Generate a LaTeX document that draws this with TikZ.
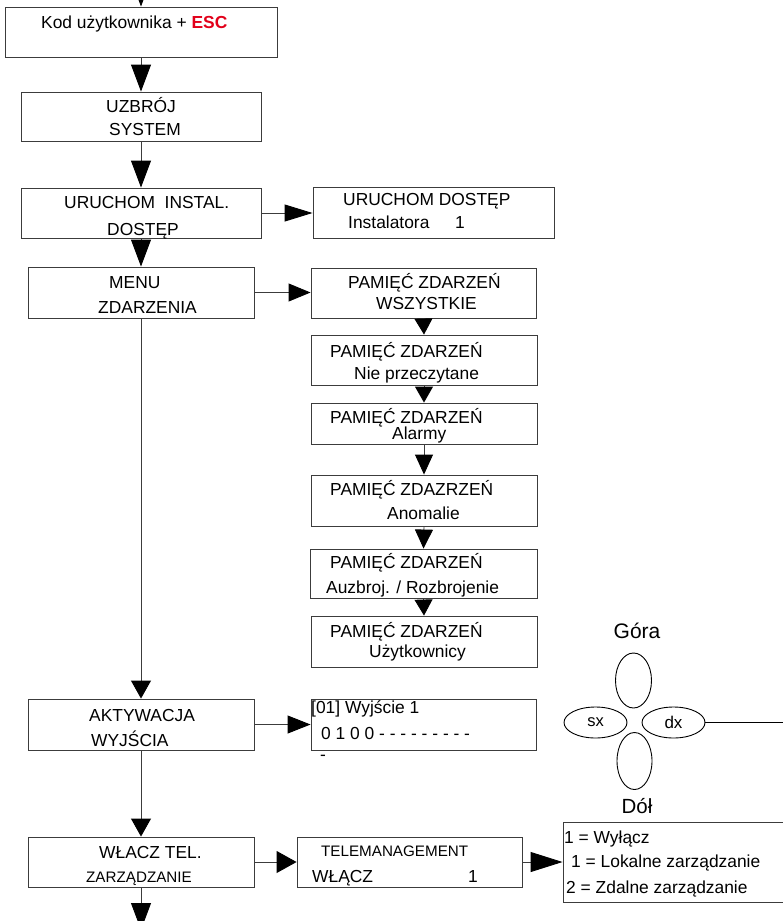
\documentclass[tikz,border=0pt]{standalone}
\usepackage{fontspec}
\setmainfont{Liberation Sans}
\usetikzlibrary{arrows.meta,shapes.geometric}
\definecolor{escred}{RGB}{226,0,26}
\definecolor{lineg}{RGB}{60,60,60}
\tikzset{
  box/.style={draw=lineg, line width=0.9pt, fill=white, rectangle, inner sep=0pt},
  txt/.style={anchor=base west, inner sep=0pt, font=\fontsize{17.4}{20}\selectfont},
  stxt/.style={anchor=base west, inner sep=0pt, font=\fontsize{15.2}{18}\selectfont},
  conn/.style={draw=lineg, line width=0.9pt},
  bigarrow/.style={conn, -{Triangle[width=20pt,length=27pt,color=black]}},
  sidearrow/.style={conn, -{Triangle[width=18pt,length=22pt,color=black]}},
  smallarrow/.style={conn, -{Triangle[width=18pt,length=16pt,color=black]}},
  key/.style={draw=black, line width=0.9pt, ellipse, inner sep=0pt}
}
\begin{document}
\begin{tikzpicture}[x=1pt,y=-1pt]
\useasboundingbox (0,0) rectangle (783,921);
% boxes
\node[box, minimum width=272pt, minimum height=50pt] (b1) at (141,32) {};
\node[box, minimum width=240pt, minimum height=49pt] (b2) at (141,116.5) {};
\node[box, minimum width=240pt, minimum height=50pt] (b3) at (141,213) {};
\node[box, minimum width=241pt, minimum height=51pt] (b4) at (433.5,212.5) {};
\node[box, minimum width=226pt, minimum height=51pt] (b5) at (141,292.5) {};
\node[box, minimum width=225pt, minimum height=50pt] (b6) at (423.5,293) {};
\node[box, minimum width=226pt, minimum height=50pt] (b7) at (424,360) {};
\node[box, minimum width=226pt, minimum height=41pt] (b8) at (424,423.5) {};
\node[box, minimum width=226pt, minimum height=51pt] (b9) at (424,500.5) {};
\node[box, minimum width=227pt, minimum height=49pt] (b10) at (423.5,573.5) {};
\node[box, minimum width=226pt, minimum height=51pt] (b11) at (424,641.5) {};
\node[box, minimum width=226pt, minimum height=51pt] (b12) at (141,724.5) {};
\node[box, minimum width=226pt, minimum height=50pt] (b13) at (141,862) {};
\node[box, minimum width=225pt, minimum height=51pt] (b14) at (423.5,724.5) {};
\node[box, minimum width=225pt, minimum height=50pt] (b15) at (409.5,862) {};
\node[box, minimum width=237pt, minimum height=80pt] (b16) at (681.5,862) {};
% connectors
\coordinate (top) at (141,-5);
\coordinate (bottom) at (141,930);
\draw[bigarrow] (top) -- (b1.north);
\draw[bigarrow] (b1.south) -- (b2.north);
\draw[bigarrow] (b2.south) -- (b3.north);
\draw[bigarrow] (b3.south) -- (b5.north);
\draw[conn, -{Triangle[width=17pt,length=28pt,color=black]}] (b3.east) -- (b3.east -| b4.west);
\draw[sidearrow] (b5.east) -- (b5.east -| b6.west);
\draw[smallarrow] (b6.south) -- (b7.north);
\draw[smallarrow] (b7.south) -- (b8.north);
\draw[conn, -{Triangle[width=18pt,length=20pt,color=black]}] (b8.south) -- (b9.north);
\draw[conn, -{Triangle[width=18pt,length=19pt,color=black]}] (b9.south) -- (b10.north);
\draw[smallarrow] (b10.south) -- (b11.north);
\draw[conn, -{Triangle[width=20pt,length=18pt,color=black]}] (b5.south) -- (b12.north);
\draw[conn, -{Triangle[width=18pt,length=23pt,color=black]}] (b12.east) -- (b12.east -| b14.west);
\draw[conn, -{Triangle[width=20pt,length=18pt,color=black]}] (b12.south) -- (b13.north);
\draw[conn, -{Triangle[width=22pt,length=20pt,color=black]}] (b13.east) -- (b13.east -| b15.west);
\draw[conn, -{Triangle[width=20pt,length=32pt,color=black]}] (b15.east) -- (b15.east -| b16.west);
\draw[bigarrow] (b13.south) -- (bottom);
% texts
\node[txt] (t1) at (41,28) {Kod użytkownika + \textbf{\color{escred}ESC}};
\node[txt] (t2a) at (106,112) {UZBRÓJ};
\node[txt] (t2b) at (109,135) {SYSTEM};
\node[txt] (t3a) at (64,208) {URUCHOM\ \ INSTAL.};
\node[txt] (t3b) at (107,235) {DOSTĘP};
\node[txt] (t4a) at (343,205) {URUCHOM DOSTĘP};
\node[txt] (t4b) at (348,228) {Instalatora};
\node[txt] (t4c) at (455,228) {1};
\node[txt] (t5a) at (109,288) {MENU};
\node[txt] (t5b) at (98,313) {ZDARZENIA};
\node[txt] (t6a) at (348,288) {PAMIĘĆ ZDARZEŃ};
\node[txt] (t6b) at (376,309) {WSZYSTKIE};
\node[txt] (t7a) at (330,357) {PAMIĘĆ ZDARZEŃ};
\node[txt] (t7b) at (354,379) {Nie przeczytane};
\node[txt] (t8a) at (330,423) {PAMIĘĆ ZDARZEŃ};
\node[txt] (t8b) at (392,439) {Alarmy};
\node[txt] (t9a) at (330,495) {PAMIĘĆ ZDAZRZEŃ};
\node[txt] (t9b) at (387,519) {Anomalie};
\node[txt] (t10a) at (330,568) {PAMIĘĆ ZDARZEŃ};
\node[txt] (t10b) at (326,593) {Auzbroj. / Rozbrojenie};
\node[txt] (t11a) at (330,637) {PAMIĘĆ ZDARZEŃ};
\node[txt] (t11b) at (369,657) {Użytkownicy};
\node[txt] (t12a) at (89,721) {AKTYWACJA};
\node[txt] (t12b) at (91,746) {WYJŚCIA};
\node[txt] (t13a) at (99,858) {WŁACZ TEL.};
\node[stxt] (t13b) at (86,882) {ZARZĄDZANIE};
\node[txt] (t14a) at (311,713) {[01] Wyjście 1};
\node[txt] (t14b) at (321,739) {0 1 0 0 - - - - - - - - -};
\node[txt] (t14c) at (320,760) {-};
\node[stxt] (t15a) at (321,856) {TELEMANAGEMENT};
\node[txt] (t15b) at (312,882) {WŁĄCZ};
\node[txt] (t15c) at (468,882) {1};
\node[txt] (t16a) at (564,843) {1 = Wyłącz};
\node[txt] (t16b) at (571,867) {1 = Lokalne zarządzanie};
\node[txt] (t16c) at (566,893) {2 = Zdalne zarządzanie};
% keypad
\node[anchor=base, inner sep=0pt, font=\fontsize{21}{24}\selectfont] (gora) at (637,638) {Góra};
\node[key, minimum width=36pt, minimum height=55pt] (kup) at (633.5,680.5) {};
\node[key, minimum width=63pt, minimum height=31pt, font=\fontsize{16.5}{19}\selectfont] (ksx) at (595.5,722.5) {sx};
\node[key, minimum width=63pt, minimum height=31pt, font=\fontsize{17}{19}\selectfont] (kdx) at (673.5,722.5) {dx};
\node[key, minimum width=35pt, minimum height=57pt] (kdn) at (634.5,761) {};
\node[anchor=base, inner sep=0pt, font=\fontsize{20.5}{24}\selectfont] (dol) at (637,813) {Dół};
\coordinate (kend) at (790,722.5);
\draw[draw=black, line width=0.9pt] (kdx.east) -- (kend);
\end{tikzpicture}
\end{document}
